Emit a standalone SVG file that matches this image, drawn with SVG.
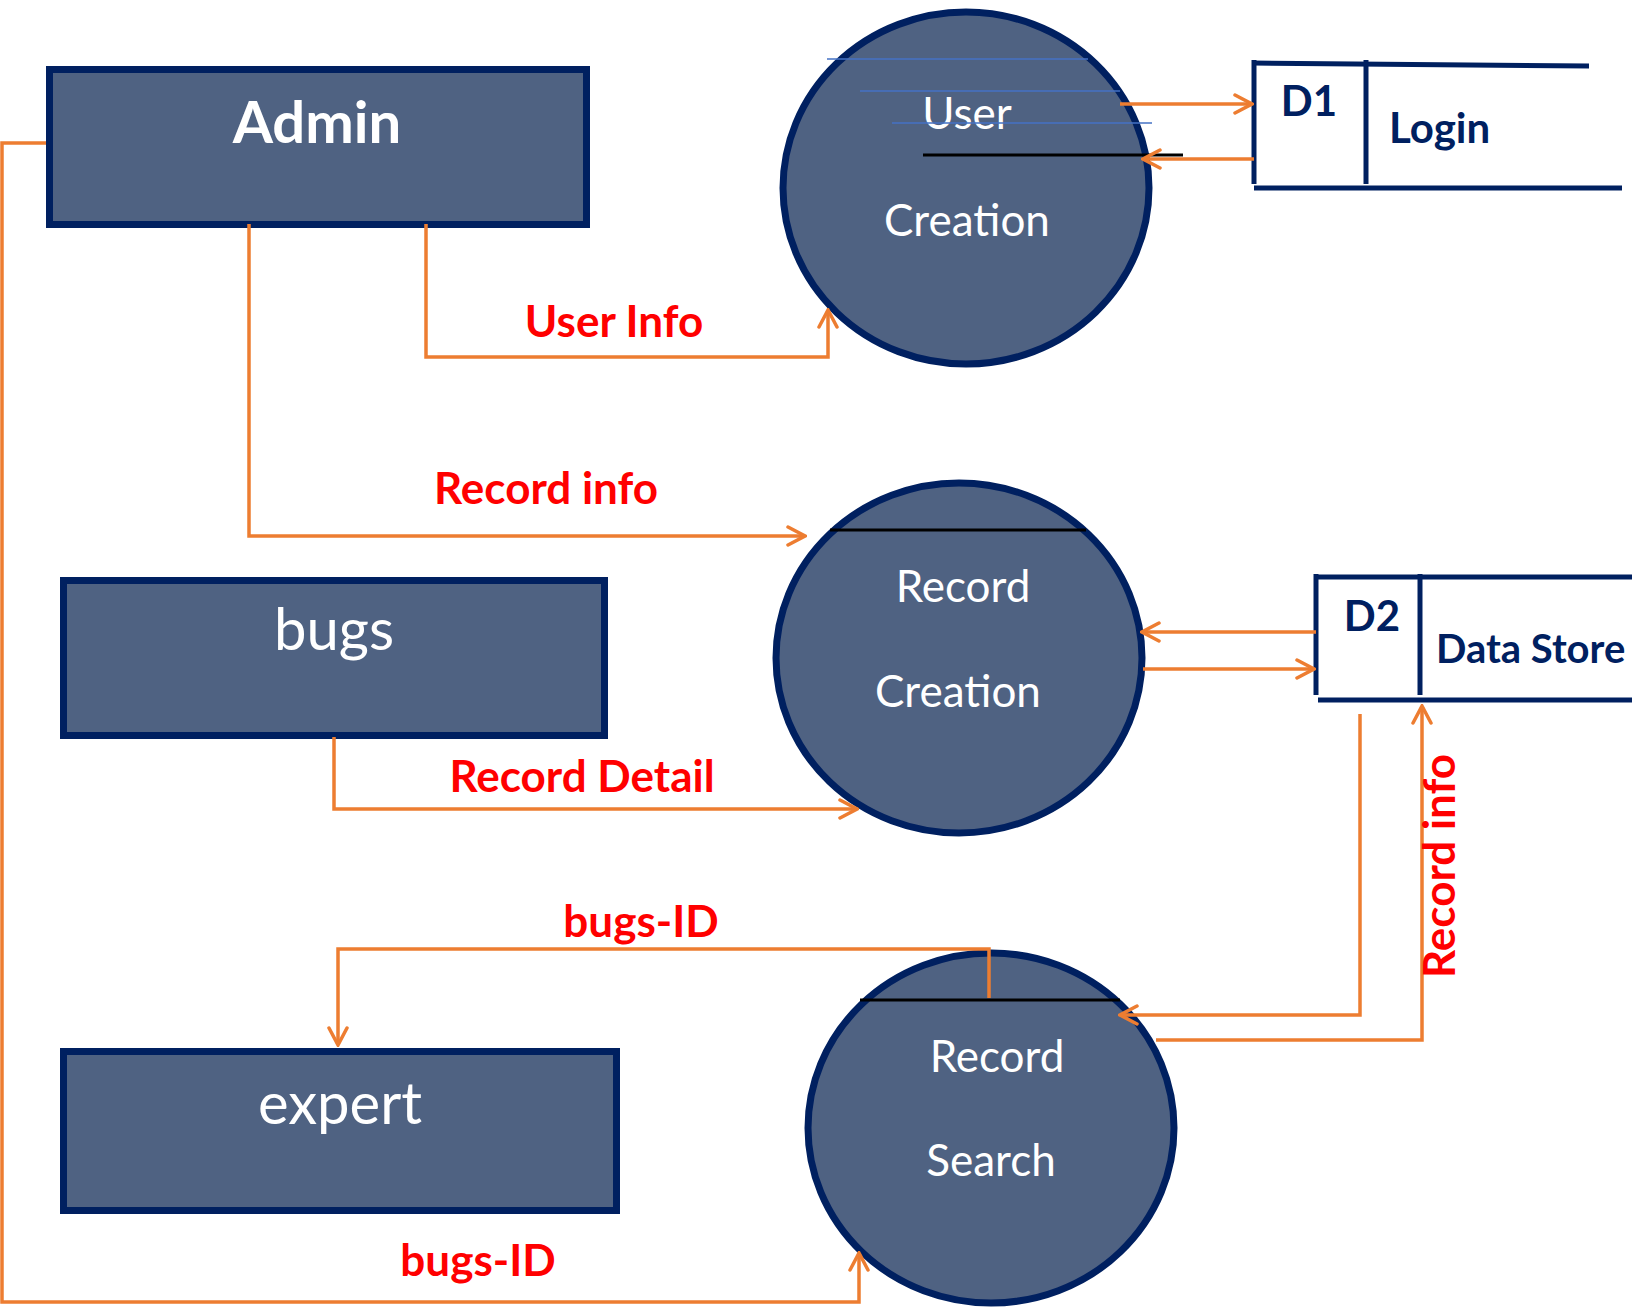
<svg xmlns="http://www.w3.org/2000/svg" width="1632" height="1308" viewBox="0 0 1632 1308">
<style>
.box{fill:#4F6282;stroke:#002060;stroke-width:7}
.proc{fill:#4F6282;stroke:#002060;stroke-width:7}
.ntxt{font-family:Lato,"Liberation Sans",sans-serif;fill:#FFFFFF;text-anchor:middle}
.store{stroke:#002060;stroke-width:5;fill:none}
.stxt{font-family:Lato,"Liberation Sans",sans-serif;font-weight:bold;fill:#002060}
.flow{fill:none;stroke:#ED7D31;stroke-width:3.5}
.lbl{font-family:Lato,"Liberation Sans",sans-serif;font-weight:bold;fill:#FF0000;font-size:44px;text-anchor:middle}
.blue{stroke:#4472C4;stroke-width:1.5}
.blk{stroke:#000000;stroke-width:3}
</style>
<defs>
<marker id="arr" viewBox="0 0 22 22" refX="20" refY="11" markerWidth="22" markerHeight="22" markerUnits="userSpaceOnUse" orient="auto">
<path d="M3,2 L20,11 L3,20" fill="none" stroke="#ED7D31" stroke-width="3.5" stroke-linecap="round"/>
</marker>
</defs>
<rect width="1632" height="1308" fill="#FFFFFF"/>

<g id="admin">
<rect class="box" x="49.5" y="69.5" width="537" height="155"/>
<text class="ntxt" x="317" y="143" font-size="58" font-weight="bold">Admin</text>
</g>
<g id="bugs">
<rect class="box" x="63.5" y="580.5" width="541" height="155"/>
<text class="ntxt" x="334" y="650" font-size="58">bugs</text>
</g>
<g id="expert">
<rect class="box" x="63.5" y="1051.5" width="553" height="159"/>
<text class="ntxt" x="340" y="1124" font-size="58">expert</text>
</g>

<g id="user-creation">
<ellipse class="proc" cx="966" cy="188" rx="183" ry="176"/>
<line class="blue" x1="827" y1="59" x2="1088" y2="59"/>
<line class="blue" x1="860" y1="91" x2="1120" y2="91"/>
<text class="ntxt" x="967" y="129" font-size="44">User</text>
<line class="blue" x1="892" y1="123" x2="1152" y2="123"/>
<line class="blk" x1="923" y1="155" x2="1183" y2="155"/>
<text class="ntxt" x="967" y="236" font-size="44">Creation</text>
</g>

<g id="record-creation">
<ellipse class="proc" cx="959" cy="658" rx="183" ry="175"/>
<line class="blk" x1="830" y1="530" x2="1086" y2="530"/>
<text class="ntxt" x="963" y="602" font-size="44">Record</text>
<text class="ntxt" x="958" y="707" font-size="44">Creation</text>
</g>

<g id="record-search">
<ellipse class="proc" cx="991" cy="1128" rx="183" ry="175"/>
<line class="blk" x1="860" y1="1000" x2="1120" y2="1000"/>
<text class="ntxt" x="997" y="1072" font-size="44">Record</text>
<text class="ntxt" x="991" y="1176" font-size="44">Search</text>
</g>

<g id="d1-login">
<path class="store" d="M1254,60 V184"/>
<path class="store" d="M1366,60 V184"/>
<path class="store" d="M1252,63 L1589,66"/>
<path class="store" d="M1254,188 H1622"/>
<text class="stxt" x="1309" y="116" font-size="42" text-anchor="middle">D1</text>
<text class="stxt" x="1389" y="143" font-size="42">Login</text>
</g>

<g id="d2-datastore">
<path class="store" d="M1316,574 V695"/>
<path class="store" d="M1420,574 V695"/>
<path class="store" d="M1314,577 H1632"/>
<path class="store" d="M1318,700 H1632"/>
<text class="stxt" x="1372" y="631" font-size="42" text-anchor="middle">D2</text>
<text class="stxt" x="1436" y="663" font-size="40">Data Store</text>
</g>

<g id="connectors">
<path class="flow" d="M46,143 H2 V1302 H859 V1253" marker-end="url(#arr)"/>
<path class="flow" d="M249,224 V536 H805" marker-end="url(#arr)"/>
<path class="flow" d="M426,224 V357 H828 V310" marker-end="url(#arr)"/>
<path class="flow" d="M1120,104 H1252" marker-end="url(#arr)"/>
<path class="flow" d="M1254,159 H1143" marker-end="url(#arr)"/>
<path class="flow" d="M1316,632 H1142" marker-end="url(#arr)"/>
<path class="flow" d="M1143,669 H1314" marker-end="url(#arr)"/>
<path class="flow" d="M334,737 V809 H857" marker-end="url(#arr)"/>
<path class="flow" d="M989,998 V949 H338 V1045" marker-end="url(#arr)"/>
<path class="flow" d="M1360,714 V1015 H1120" marker-end="url(#arr)"/>
<path class="flow" d="M1156,1040 H1422 V706" marker-end="url(#arr)"/>
<text class="lbl" x="614" y="337">User Info</text>
<text class="lbl" x="546" y="504">Record info</text>
<text class="lbl" x="582" y="792">Record Detail</text>
<text class="lbl" x="641" y="937">bugs-ID</text>
<text class="lbl" x="478" y="1276">bugs-ID</text>
<text class="lbl" transform="translate(1455,866) rotate(-90)">Record info</text>
</g>
</svg>
